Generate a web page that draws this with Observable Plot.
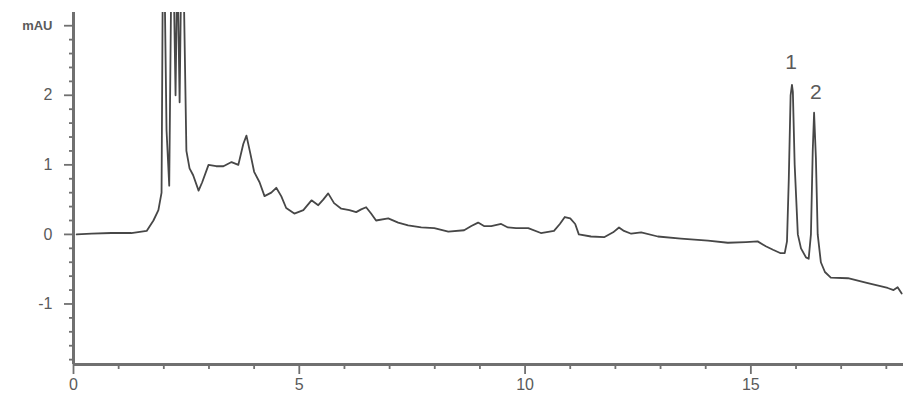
<!DOCTYPE html>
<html><head><meta charset="utf-8">
<script src="https://cdn.jsdelivr.net/npm/d3@7"></script>
<script src="https://cdn.jsdelivr.net/npm/@observablehq/plot@0.6"></script>
<style>body{margin:0;background:#fff}</style>
</head><body><div id="chart"></div>
<script>
const times = [0.07,0.40,0.84,1.28,1.62,1.77,1.88,1.95,1.98,2.01,2.06,2.12,2.17,2.21,2.26,2.30,2.35,2.39,2.43,2.50,2.57,2.65,2.77,2.85,2.99,3.16,3.32,3.50,3.65,3.76,3.83,3.92,4.00,4.12,4.23,4.38,4.49,4.60,4.71,4.89,5.09,5.27,5.42,5.53,5.64,5.77,5.93,6.11,6.26,6.37,6.48,6.59,6.70,6.97,7.19,7.41,7.70,7.99,8.30,8.65,8.81,8.96,9.09,9.25,9.47,9.62,9.80,10.07,10.35,10.64,10.77,10.88,11.00,11.11,11.19,11.46,11.75,11.95,12.08,12.19,12.35,12.57,12.94,13.45,14.05,14.49,14.89,15.15,15.33,15.49,15.66,15.75,15.80,15.84,15.88,15.91,15.93,15.97,16.04,16.11,16.22,16.28,16.33,16.37,16.40,16.44,16.48,16.55,16.64,16.77,17.15,17.59,18.03,18.16,18.25,18.34];
const values = [0.00,0.01,0.02,0.02,0.05,0.20,0.35,0.60,4,4,1.5,0.7,4,4,2.0,4,1.9,4,4,1.2,0.95,0.85,0.63,0.75,1.00,0.98,0.98,1.04,1.00,1.30,1.42,1.15,0.90,0.75,0.55,0.60,0.67,0.55,0.38,0.30,0.35,0.49,0.42,0.50,0.59,0.45,0.37,0.35,0.32,0.36,0.39,0.30,0.20,0.23,0.17,0.13,0.10,0.09,0.04,0.06,0.12,0.17,0.12,0.12,0.15,0.10,0.09,0.09,0.02,0.05,0.15,0.25,0.23,0.15,0.00,-0.03,-0.04,0.03,0.10,0.05,0.01,0.03,-0.03,-0.06,-0.09,-0.12,-0.11,-0.10,-0.17,-0.22,-0.27,-0.27,-0.10,0.80,2.00,2.15,2.05,1.00,0.00,-0.20,-0.33,-0.35,0.00,1.20,1.75,1.10,0.00,-0.40,-0.54,-0.62,-0.63,-0.70,-0.77,-0.80,-0.76,-0.85];

const xTicks = [0, 5, 10, 15];
const xTickLabels = ["0", "5", "10", "15"];
const yTicks = [-1, 0, 1, 2, 3];
const yTickLabels = ["-1", "0", "1", "2", "mAU"];
const peakLabels = ["1", "2"];
const peakTimes = [15.89, 16.44];
const peakLabelValues = [2.42, 1.98];

const data = times.map((t, i) => ({t, v: values[i]}));
const peaks = peakLabels.map((l, i) => ({l, t: peakTimes[i], v: peakLabelValues[i]}));
const xMinor = d3.range(0, 19, 1).filter(d => !xTicks.includes(d));
const yMinor = d3.range(-18, 32, 2).map(d => d / 10).filter(d => !yTicks.includes(Math.round(d * 10) / 10));

const axisColor = "#707070";
const textColor = "#5a5a5a";
const chart = Plot.plot({
  width: 905, height: 401,
  marginLeft: 73, marginRight: 2, marginTop: 12, marginBottom: 37,
  style: {fontFamily: "Liberation Sans, Arial, sans-serif", background: "#fff"},
  x: {domain: [0, 18.38]},
  y: {domain: [-1.87, 3.19]},
  marks: [
    Plot.axisX({ticks: xTicks, tickFormat: (d) => xTickLabels[xTicks.indexOf(d)], tickSize: 10, tickPadding: 4, fontSize: 16, color: textColor, stroke: axisColor, strokeWidth: 1.8, label: null}),
    Plot.axisX({ticks: xMinor, tickFormat: () => "", tickSize: 5, stroke: axisColor, strokeWidth: 1.8, label: null}),
    Plot.axisY({ticks: yTicks.slice(0, 4), tickFormat: (d) => yTickLabels[yTicks.indexOf(d)], tickSize: 9, tickPadding: 12, fontSize: 16, color: textColor, stroke: axisColor, strokeWidth: 1.8, label: null}),
    Plot.axisY({ticks: [3], tickFormat: () => "mAU", tickSize: 9, tickPadding: 12, fontSize: 13, fontWeight: "bold", color: textColor, stroke: axisColor, strokeWidth: 1.8, label: null}),
    Plot.axisY({ticks: yMinor, tickFormat: () => "", tickSize: 4, stroke: axisColor, strokeWidth: 1.8, label: null}),
    Plot.ruleX([0], {stroke: axisColor, strokeWidth: 3}),
    Plot.ruleY([-1.87], {stroke: axisColor, strokeWidth: 3}),
    Plot.line(data, {x: "t", y: "v", stroke: "#474747", strokeWidth: 1.8, clip: true, curve: "linear"}),
    Plot.text(peaks, {x: "t", y: "v", text: "l", fontSize: 21, fill: textColor, dy: -4})
  ]
});
document.getElementById("chart").appendChild(chart);
</script>
</body></html>
